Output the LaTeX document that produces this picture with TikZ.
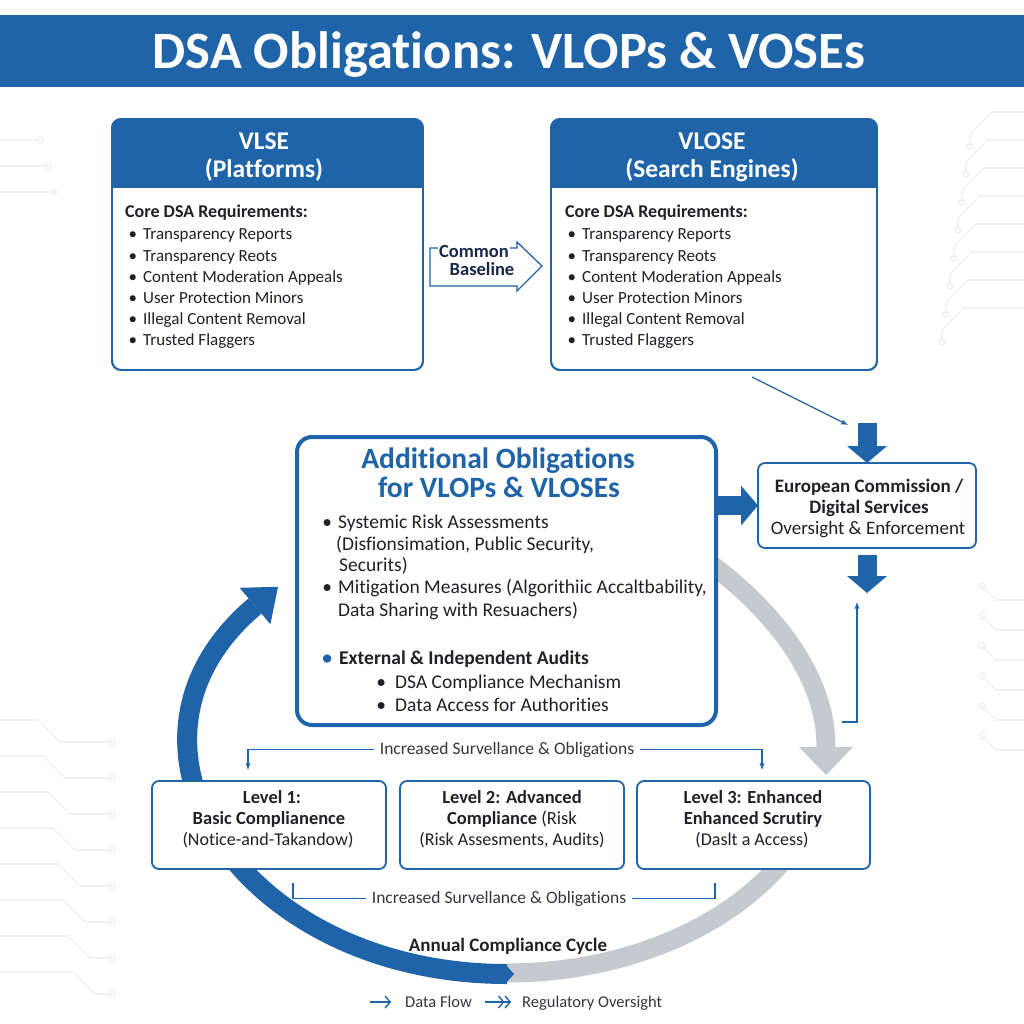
\documentclass[tikz,border=0pt]{standalone}
\usepackage{fontspec}
\setmainfont{Carlito}[Ligatures=NoCommon]
\usepackage{tikz}
\usetikzlibrary{
  arrows.meta,%
  positioning,%
  calc
}
\definecolor{dsablue}{RGB}{31,99,168}
\definecolor{cyclegray}{RGB}{198,201,206}
\definecolor{inkdark}{RGB}{32,33,38}
\definecolor{inkgray}{RGB}{52,54,60}
\definecolor{navyink}{RGB}{24,40,72}
\definecolor{tracegray}{RGB}{240,242,246}
\newcommand{\fsz}[1]{\fontsize{#1}{#1}\selectfont}
\tikzset{>=latex}
\tikzset{
  panel/.style={draw=dsablue, line width=1.8pt, rounded corners=9pt, fill=white,
    inner sep=0pt, outer sep=0pt},
  levelbox/.style={draw=dsablue, line width=1.8pt, rounded corners=7pt, fill=white,
    inner sep=0pt, minimum height=88pt},
  txt/.style={inner sep=0pt, text=inkdark, font=\fsz{17}},
  bigarrow/.style={draw=dsablue, line width=19pt, -{Triangle[length=17pt,width=39pt]}},
  thinarrow/.style={draw=dsablue, line width=1.3pt, ->},
  thinline/.style={draw=dsablue, line width=1.3pt},
  trace/.style={draw=tracegray, line width=1.6pt},
}
\begin{document}
\begin{tikzpicture}[x=1pt, y=-1pt]
  \useasboundingbox[fill=white] (0,0) rectangle (1024,1024);

  % faint circuit traces
  \foreach \k in {0,...,7}
    \draw[trace] (1024,{112+28*\k}) -- ({992-4*\k},{112+28*\k}) -- ({970-4*\k},{134+28*\k})
      -- ({970-4*\k},{146+28*\k}) circle[radius=3];
  \foreach \k in {0,...,5}
    \draw[trace] (1024,{600+30*\k}) -- (996,{600+30*\k}) -- (982,{586+30*\k}) circle[radius=3];
  \foreach \k in {0,...,7}
    \draw[trace] (0,{720+36*\k}) -- ({38+5*\k},{720+36*\k}) -- ({60+5*\k},{742+36*\k})
      -- (112,{742+36*\k}) circle[radius=3];
  \foreach \k in {0,...,2}
    \draw[trace] (0,{140+26*\k}) -- ({40+8*\k},{140+26*\k}) circle[radius=3];

  % title band
  \fill[dsablue] (0,15) rectangle (1024,87);
  \node[anchor=base, inner sep=0pt, text=white, font=\bfseries\fsz{52.5}] (title) at (509,69)
    {DSA Obligations: VLOPs \& VOSEs};

  % VLSE / VLOSE panels
  \node[panel, minimum width=311pt, minimum height=251pt] (vlse) at (267.5,244.5) {};
  \node[panel, minimum width=326pt, minimum height=251pt] (vlose) at (714,244.5) {};
  \foreach \pnl/\cx/\ta/\tb in {vlse/264/VLSE/(Platforms), vlose/712/VLOSE/(Search Engines)} {
    \begin{scope}
      \clip[rounded corners=9pt] (\pnl.north west) rectangle (\pnl.south east);
      \fill[dsablue] (\pnl.north west) rectangle ($(\pnl.north east)+(0,69)$);
    \end{scope}
    \draw[dsablue, line width=1.8pt, rounded corners=9pt] (\pnl.north west) rectangle (\pnl.south east);
    \node[anchor=base, inner sep=0pt, text=white, font=\bfseries\fsz{25.5}] (\pnl-name) at (\cx,150) {\ta};
    \node[anchor=base, inner sep=0pt, text=white, font=\bfseries\fsz{25.5}] (\pnl-kind) at (\cx,178) {\tb};
  }
  \foreach \pnl/\xa/\xb in {vlse/125/143, vlose/565/582} {
    \node[txt, anchor=base west, font=\bfseries\fsz{18}] (\pnl-core) at (\xa,218) {Core DSA Requirements:};
    \foreach \req [count=\i] in {Transparency Reports, Transparency Reots, Content Moderation Appeals,
        User Protection Minors, Illegal Content Removal, Trusted Flaggers}
      \node[txt, anchor=base west] (\pnl-req\i) at (\xb,{219+21*\i}) {\llap{\textbullet\hspace{6pt}}\req};
  }

  % common baseline arrow
  \draw[dsablue, line width=1.3pt] (430,248) -- (517,248) -- (517,242) -- (542,266)
    -- (517,291) -- (517,286) -- (430,286) -- cycle;
  \node[anchor=base, fill=white, inner xsep=1pt, inner ysep=1pt, text=navyink,
    font=\bfseries\fsz{18.5}] (common) at (474,258) {Common};
  \node[anchor=base, inner sep=0pt, text=navyink, font=\bfseries\fsz{18.5}] (baseline) at (482,275) {Baseline};

  % annual compliance cycle
  \draw[cyclegray, line width=19pt] plot[domain=24:90, samples=40, variable=\t]
    ({507+323*cos(\t)}, {740+233*sin(\t)});
  \draw[cyclegray, line width=19pt] (712,565) .. controls (760,601) and (826,667) .. (826,747);
  \fill[cyclegray] (799,747) -- (853,747) -- (826,775) -- cycle;
  \draw[dsablue, line width=20pt] (507,974) .. controls (242,974) and (91.6,743.6) .. (255,606);
  \fill[dsablue] (239.6,587.8) -- (278,586.8) -- (270.4,624.2) -- cycle;
  \fill[dsablue] (505,964) -- (514,974) -- (505,984) -- cycle;
  \node[txt, anchor=base, font=\bfseries\fsz{19}] (cycle) at (508,951) {Annual Compliance Cycle};

  % additional obligations
  \node[draw=dsablue, line width=4pt, rounded corners=15pt, fill=white, inner sep=0pt,
    minimum width=419pt, minimum height=288pt] (addl) at (506.5,581) {};
  \node[anchor=base, inner sep=0pt, text=dsablue, font=\bfseries\fsz{29.5}] (addl-t1) at (498,468)
    {Additional Obligations};
  \node[anchor=base, inner sep=0pt, text=dsablue, font=\bfseries\fsz{29.5}] (addl-t2) at (499,497)
    {for VLOPs \& VLOSEs};
  \node[txt, anchor=base west, font=\fsz{19.5}] (risk) at (338,528)
    {\llap{\textbullet\hspace{6pt}}Systemic Risk Assessments};
  \node[txt, anchor=base west, font=\fsz{19.5}] (risk-2) at (336,550) {(Disfionsimation, Public Security,};
  \node[txt, anchor=base west, font=\fsz{19.5}] (risk-3) at (339,571) {Securits)};
  \node[txt, anchor=base west, font=\fsz{19.5}] (mitig) at (338,593)
    {\llap{\textbullet\hspace{6pt}}Mitigation Measures (Algorithiic Accaltbability,};
  \node[txt, anchor=base west, font=\fsz{19.5}] (mitig-2) at (338,616) {Data Sharing with Resuachers)};
  \node[txt, anchor=base west, font=\bfseries\fsz{19.5}] (audits) at (339,664)
    {\llap{\textcolor{dsablue}{\textbullet}\hspace{7pt}}External \& Independent Audits};
  \node[txt, anchor=base west, font=\fsz{19.5}] (audits-1) at (395,688)
    {\llap{\textbullet\hspace{9pt}}DSA Compliance Mechanism};
  \node[txt, anchor=base west, font=\fsz{19.5}] (audits-2) at (395,711)
    {\llap{\textbullet\hspace{9pt}}Data Access for Authorities};

  % european commission
  \node[panel, rounded corners=7pt, minimum width=218pt, minimum height=85pt] (ec) at (867,505.5) {};
  \node[txt, anchor=base, font=\bfseries\fsz{19}] (ec-t1) at (869,492) {European Commission /};
  \node[txt, anchor=base, font=\bfseries\fsz{19}] (ec-t2) at (869,513) {Digital Services};
  \node[txt, anchor=base, font=\fsz{19}] (ec-t3) at (868,534) {Oversight \& Enforcement};

  \coordinate (ectopin) at (867,423);
  \coordinate (ecout) at (867,593);
  \draw[bigarrow] (ectopin) -- (ec.north);
  \draw[bigarrow] (addl.east |- ec.west) -- (ec.west);
  \draw[bigarrow, shorten <=7pt] (ec.south) -- (ecout);

  \coordinate (vlosefoot) at (752,377);
  \coordinate (ecentry) at (848,425);
  \draw[thinarrow] (vlosefoot) -- (ecentry);
  \coordinate (cyclefoot) at (842,722);
  \coordinate (ecfoot) at (857,602);
  \draw[thinarrow] (cyclefoot) -| (ecfoot);

  % compliance levels
  \node[levelbox, minimum width=234pt] (lvl1) at (269,825) {};
  \node[levelbox, minimum width=224pt] (lvl2) at (512,825) {};
  \node[levelbox, minimum width=233pt] (lvl3) at (753.5,825) {};
  \node[txt, anchor=base, font=\bfseries\fsz{18.5}] (lvl1-a) at (272,803) {Level 1:};
  \node[txt, anchor=base, font=\bfseries\fsz{18.5}] (lvl1-b) at (269,824) {Basic Complianence};
  \node[txt, anchor=base, font=\fsz{18}] (lvl1-c) at (268,845) {(Notice-and-Takandow)};
  \node[txt, anchor=base, font=\bfseries\fsz{18.5}] (lvl2-a) at (512,803) {Level 2: Advanced};
  \node[txt, anchor=base, font=\fsz{18.5}] (lvl2-b) at (512,824) {\textbf{Compliance} (Risk};
  \node[txt, anchor=base, font=\fsz{18}] (lvl2-c) at (512,845) {(Risk Assesments, Audits)};
  \node[txt, anchor=base, font=\bfseries\fsz{18.5}] (lvl3-a) at (753,803) {Level 3: Enhanced};
  \node[txt, anchor=base, font=\bfseries\fsz{18.5}] (lvl3-b) at (753,824) {Enhanced Scrutiry};
  \node[txt, anchor=base, font=\fsz{18}] (lvl3-c) at (752,845) {(Daslt a Access)};

  % surveillance brackets
  \node[txt, anchor=base, inner xsep=6pt, text=inkgray, font=\fsz{17.5}] (survtop) at (507,754)
    {Increased Survellance \& Obligations};
  \coordinate (lvl1in) at (248,770);
  \coordinate (lvl3in) at (762,770);
  \draw[thinarrow] (survtop.west) -| (lvl1in);
  \draw[thinarrow] (survtop.east) -| (lvl3in);
  \node[txt, anchor=base, inner xsep=6pt, text=inkgray, font=\fsz{17.5}] (survbot) at (499,903)
    {Increased Survellance \& Obligations};
  \coordinate (lvl1out) at (293,883);
  \coordinate (lvl3out) at (715,883);
  \draw[thinline] (survbot.west) -| (lvl1out);
  \draw[thinline] (survbot.east) -| (lvl3out);

  % legend
  \draw[dsablue, line width=1.4pt, -{Straight Barb[length=5pt,width=12pt]}] (370,1002) -- (391,1002);
  \node[txt, anchor=base west, text=inkgray, font=\fsz{16.5}] (flow) at (405,1007) {Data Flow};
  \draw[dsablue, line width=1.4pt, -{Straight Barb[length=5pt,width=12pt] Straight Barb[length=5pt,width=12pt]}]
    (485,1002) -- (511,1002);
  \node[txt, anchor=base west, text=inkgray, font=\fsz{16.5}] (oversight) at (522,1007) {Regulatory Oversight};
\end{tikzpicture}
\end{document}
